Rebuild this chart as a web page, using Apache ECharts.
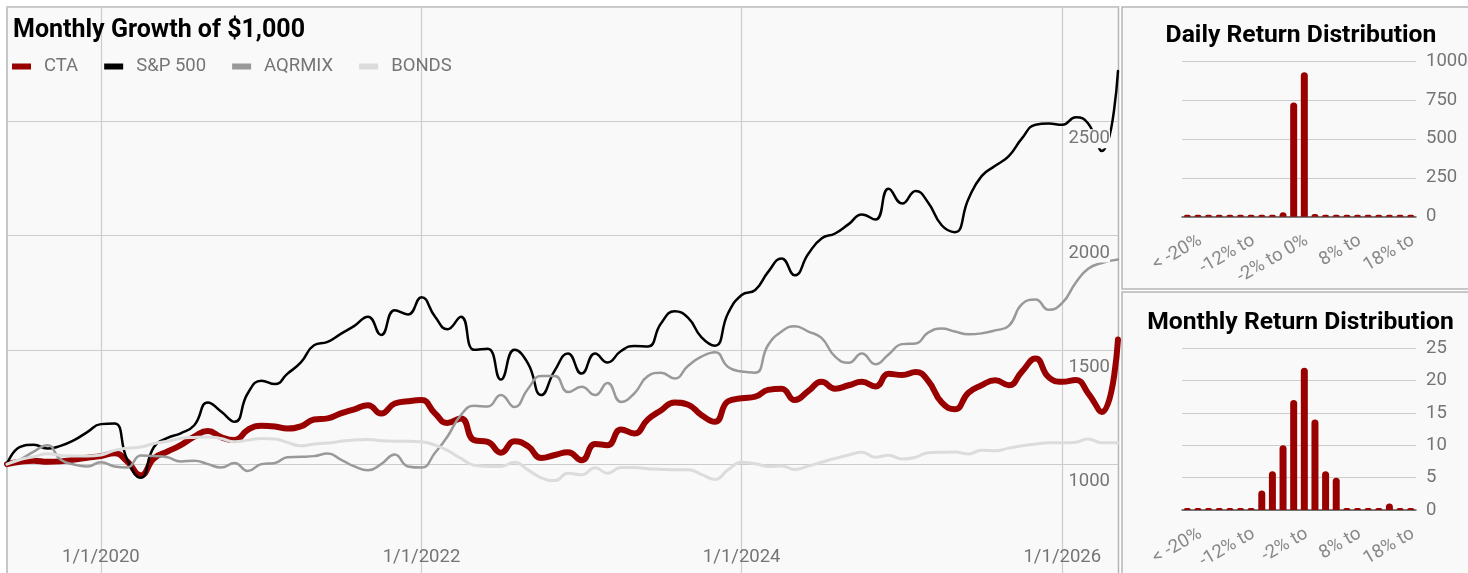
<!DOCTYPE html>
<html>
<head>
<meta charset="utf-8">
<script src="https://cdn.jsdelivr.net/npm/echarts@6/dist/echarts.min.js"></script>
<style>
  html, body { margin: 0; padding: 0; background: #ffffff; }
  #chart { width: 1468px; height: 573px; }
</style>
</head>
<body>
<div id="chart"></div>
<script>
// ---- Growth of $1,000, one value per month starting June 2019 (last point is the latest reading) ----
const seriesNames = ['CTA', 'S&P 500', 'AQRMIX', 'BONDS'];
const firstYear = 2019, firstMonth = 6;
const lastDate = '2026-05-08';

const cta = [1000,1010,1015,1010,1012,1020,1028,1035,1048,1012,
  951,1025,1055,1083,1120,1145,1118,1105,1150,1168,
  1165,1156,1165,1195,1200,1222,1240,1258,1221,1265,
  1275,1280,1221,1180,1200,1105,1097,1050,1100,1078,
  1027,1040,1052,1017,1088,1083,1152,1134,1195,1235,
  1270,1260,1215,1185,1275,1288,1295,1325,1330,1280,
  1320,1360,1330,1345,1360,1340,1395,1390,1403,1365,
  1270,1240,1312,1345,1367,1345,1405,1462,1380,1360,
  1368,1310,1228,1545];

const sp500 = [1000,1075,1085,1068,1080,1105,1140,1175,1178,1020,
  940,1075,1115,1135,1170,1270,1230,1185,1310,1365,
  1350,1395,1445,1520,1535,1570,1605,1645,1565,1673,
  1655,1730,1645,1590,1645,1500,1505,1370,1500,1440,
  1302,1410,1484,1396,1484,1445,1495,1517,1515,1615,
  1669,1640,1556,1518,1660,1740,1762,1840,1900,1826,
  1920,1987,2009,2050,2092,2070,2205,2140,2195,2145,
  2045,2015,2160,2260,2305,2348,2425,2485,2490,2485,
  2518,2490,2370,2720];

const aqrmix = [1000,1020,1055,1083,1020,998,990,1008,990,985,
  1038,1036,1030,1012,1015,1000,985,1005,970,1000,
  1005,1030,1032,1035,1046,1020,990,973,1000,1042,
  990,985,1050,1120,1215,1255,1252,1302,1250,1330,
  1385,1385,1315,1338,1302,1355,1272,1309,1385,1400,
  1375,1430,1470,1490,1425,1405,1400,1520,1580,1603,
  1580,1552,1470,1443,1484,1437,1480,1525,1528,1575,
  1593,1580,1568,1572,1585,1605,1700,1720,1675,1705,
  1795,1855,1880,1895];

const bonds = [1000,1020,1032,1045,1038,1035,1035,1040,1060,1070,
  1075,1090,1100,1112,1117,1119,1112,1098,1105,1112,
  1110,1095,1080,1088,1092,1100,1106,1108,1102,1100,
  1100,1098,1083,1060,1025,995,990,990,1008,975,
  940,928,960,953,984,960,985,985,980,978,
  975,975,955,933,975,1008,1002,990,992,977,
  992,1008,1025,1040,1052,1030,1039,1022,1030,1050,
  1052,1053,1044,1061,1058,1070,1080,1088,1093,1093,
  1096,1110,1093,1094];

const xTickLabels = ['1/1/2020', '1/1/2022', '1/1/2024', '1/1/2026'];
const growthTicks = { min: 500, max: 3000, step: 500 };

// ---- Return distributions (count per 2% bucket) ----
const returnBins = ['< -20%', '-20% to -18%', '-18% to -16%', '-16% to -14%', '-14% to -12%',
  '-12% to -10%', '-10% to -8%', '-8% to -6%', '-6% to -4%', '-4% to -2%', '-2% to 0%',
  '0% to 2%', '2% to 4%', '4% to 6%', '6% to 8%', '8% to 10%', '10% to 12%', '12% to 14%',
  '14% to 16%', '16% to 18%', '18% to 20%', '> 20%'];
const dailyCounts = [0,0,0,0,0,0,0,0,0,28,733,927,18,0,0,0,0,0,0,0,0,0];
const monthlyCounts = [0,0,0,0,0,0,0,3,6,10,17,22,14,6,5,0,0,0,0,1,0,0];
const dailyTickText = ['< -20%', '-12% to', '-2% to 0%', '8% to', '18% to'];
const monthlyTickText = ['< -20%', '-12% to', '-2% to', '8% to', '18% to'];
const dailyTicks = { max: 1000, step: 250 };
const monthlyTicks = { max: 25, step: 5 };

// ---- helpers ----
const pad = n => String(n).padStart(2, '0');
const isoDay = d => d.getFullYear() + '-' + pad(d.getMonth() + 1) + '-' + pad(d.getDate());
const parseIso = s => { const [y, m, d] = s.split('-').map(Number); return new Date(y, m - 1, d).getTime(); };
const pointDates = cta.map((_, i) =>
  i === cta.length - 1 ? lastDate : isoDay(new Date(firstYear, firstMonth - 1 + i, 1)));
const pointTimes = pointDates.map(parseIso);
const tickTimes = xTickLabels.map(s => {
  const [m, d, y] = s.split('/').map(Number);
  return new Date(y, m - 1, d).getTime();
});

const FONT = 'Roboto';
const RED = '#990000';
const GRID_LINE = '#cccccc';
const LABEL = '#757575';
const PANEL = '#f9f9f9';
const AXIS_FONT = 18.5;

const lineColors = ['#990000', '#000000', '#999999', '#dcdcdc'];
const lineWidths = [6, 2.5, 2.5, 3];
const lineValues = [cta, sp500, aqrmix, bonds];

const chart = echarts.init(document.getElementById('chart'));

const panelStyle = { fill: PANEL, stroke: '#b5b5b5', lineWidth: 1.5 };

// rotated bucket labels: the end of each label sits a little right of its bar
const bucketLabel = texts => ({
  interval: 4, rotate: 30, margin: 30, padding: [0, -15, 0, 0],
  fontFamily: FONT, fontSize: AXIS_FONT, color: '#888888',
  formatter: (v, i) => texts[i / 5]
});

chart.setOption({
  animation: false,
  backgroundColor: '#ffffff',
  graphic: [
    { type: 'rect', z: -10, shape: { x: 7, y: 7, width: 1111.5, height: 620 }, style: panelStyle, silent: true },
    { type: 'rect', z: -10, shape: { x: 1122, y: 7, width: 400, height: 282 }, style: panelStyle, silent: true },
    { type: 'rect', z: -10, shape: { x: 1122, y: 292, width: 400, height: 320 }, style: panelStyle, silent: true }
  ],
  title: [
    { text: 'Monthly Growth of $1,000', left: 13, top: 18, padding: 0,
      textStyle: { fontFamily: FONT, fontSize: 25, fontWeight: 'bold', color: '#000' } },
    { text: 'Daily Return Distribution', left: 1301, top: 23, padding: 0, textAlign: 'center',
      textStyle: { fontFamily: FONT, fontSize: 24.7, fontWeight: 'bold', color: '#000' } },
    { text: 'Monthly Return Distribution', left: 1300.5, top: 310, padding: 0, textAlign: 'center',
      textStyle: { fontFamily: FONT, fontSize: 24.7, fontWeight: 'bold', color: '#000' } }
  ],
  legend: {
    data: seriesNames,
    left: 12, top: 57, padding: 0,
    icon: 'rect', itemWidth: 19, itemHeight: 6, itemGap: 26,
    textStyle: { fontFamily: FONT, fontSize: AXIS_FONT, color: LABEL, padding: [0, 0, 0, 8] }
  },
  grid: [
    { left: 7, top: 7, width: 1111, height: 571.4, outerBoundsMode: 'none' },
    { left: 1182, top: 61, width: 234, height: 155.7, outerBoundsMode: 'none' },
    { left: 1182, top: 348.3, width: 234, height: 161.7, outerBoundsMode: 'none' }
  ],
  xAxis: [
    { type: 'value', gridIndex: 0,
      min: pointTimes[0], max: pointTimes[pointTimes.length - 1],
      axisLine: { show: false },
      axisTick: { show: false, customValues: tickTimes },
      splitLine: { show: true, lineStyle: { color: GRID_LINE, width: 1.2 } },
      axisLabel: {
        customValues: tickTimes, inside: true, margin: 12,
        fontFamily: FONT, fontSize: AXIS_FONT, color: LABEL,
        formatter: v => xTickLabels[tickTimes.indexOf(v)] || ''
      } },
    { type: 'category', gridIndex: 1, data: returnBins,
      axisLine: { lineStyle: { color: '#555555', width: 1.5 } },
      axisTick: { show: false },
      axisLabel: bucketLabel(dailyTickText) },
    { type: 'category', gridIndex: 2, data: returnBins,
      axisLine: { lineStyle: { color: '#555555', width: 1.5 } },
      axisTick: { show: false },
      axisLabel: bucketLabel(monthlyTickText) }
  ],
  yAxis: [
    // grid lines of the growth chart (kept under the lines)
    { type: 'value', gridIndex: 0, position: 'right',
      min: growthTicks.min, max: growthTicks.max, interval: growthTicks.step,
      axisLine: { show: false }, axisTick: { show: false }, axisLabel: { show: false },
      splitLine: { lineStyle: { color: GRID_LINE, width: 1.2 } } },
    // value labels of the growth chart, drawn above the lines
    { type: 'value', gridIndex: 0, position: 'right', z: 10,
      min: growthTicks.min, max: growthTicks.max, interval: growthTicks.step,
      axisLine: { show: false }, axisTick: { show: false }, splitLine: { show: false },
      axisLabel: { inside: true, margin: 8, showMaxLabel: false, showMinLabel: false,
        verticalAlign: 'top', padding: [8, 0, 0, 0],
        formatter: v => '{t|' + v + '}',
        rich: { t: { fontFamily: FONT, fontSize: AXIS_FONT, color: LABEL, backgroundColor: PANEL } } } },
    { type: 'value', gridIndex: 1, position: 'right', min: 0, max: dailyTicks.max, interval: dailyTicks.step,
      axisLine: { show: false }, axisTick: { show: false },
      splitLine: { lineStyle: { color: GRID_LINE, width: 1.2 } },
      axisLabel: { margin: 10, fontFamily: FONT, fontSize: AXIS_FONT, color: LABEL, formatter: v => String(v) } },
    { type: 'value', gridIndex: 2, position: 'right', min: 0, max: monthlyTicks.max, interval: monthlyTicks.step,
      axisLine: { show: false }, axisTick: { show: false },
      splitLine: { lineStyle: { color: GRID_LINE, width: 1.2 } },
      axisLabel: { margin: 10, fontFamily: FONT, fontSize: AXIS_FONT, color: LABEL, formatter: v => String(v) } }
  ],
  series: [
    ...seriesNames.map((name, k) => ({
      name, type: 'line', xAxisIndex: 0, yAxisIndex: 0,
      data: pointTimes.map((t, i) => [t, lineValues[k][i]]),
      smooth: 0.5, symbol: 'none',
      lineStyle: { color: lineColors[k], width: lineWidths[k], cap: 'round', join: 'round' },
      itemStyle: { color: lineColors[k] }
    })),
    { name: 'Daily', type: 'bar', xAxisIndex: 1, yAxisIndex: 2, data: dailyCounts,
      barWidth: 7, barMinHeight: 2,
      itemStyle: { color: RED, borderRadius: [3.5, 3.5, 0, 0] } },
    { name: 'Monthly', type: 'bar', xAxisIndex: 2, yAxisIndex: 3, data: monthlyCounts,
      barWidth: 7, barMinHeight: 2,
      itemStyle: { color: RED, borderRadius: [3.5, 3.5, 0, 0] } }
  ]
});
</script>
</body>
</html>
